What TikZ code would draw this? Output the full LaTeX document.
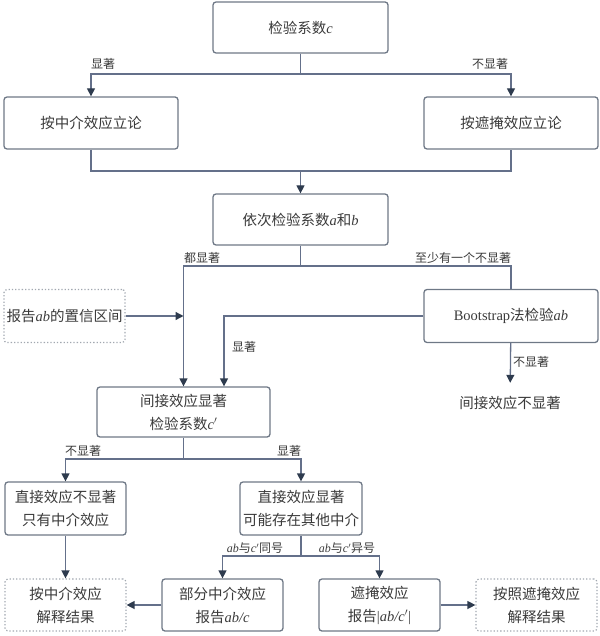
\documentclass[tikz,border=0pt]{standalone}
\usepackage{fontspec}
\setmainfont{Noto Sans CJK SC}
\newfontfamily\tnr{Liberation Serif}
\usepackage{xcolor}
\usepackage{tikz}
\usetikzlibrary{arrows.meta,positioning}

\definecolor{boxline}{HTML}{6E7886}
\definecolor{linkline}{HTML}{64708A}
\definecolor{headcol}{HTML}{2E3B4E}
\definecolor{dotline}{HTML}{A2A8B0}
\definecolor{txtcol}{HTML}{3A3A3A}

\newcommand{\vv}[1]{{\tnr\itshape #1}}

\tikzset{
  box/.style={draw=boxline,line width=1.3pt,rounded corners=3pt,inner sep=0pt,
    align=center,text=txtcol,font=\fontsize{14.5}{23}\selectfont},
  dbox/.style={box,draw=dotline,dotted,line width=1.2pt},
  plain/.style={inner sep=0pt,text=txtcol,font=\fontsize{14.5}{23}\selectfont},
  lbl/.style={inner sep=0pt,text=txtcol,font=\fontsize{12}{14}\selectfont},
  link/.style={draw=linkline,line width=1.3pt},
  arrow/.style={link,-{Triangle[length=8pt,width=8pt,color=headcol]}}
}

\begin{document}
\begin{tikzpicture}[x=1pt,y=-1pt]
  \useasboundingbox (0,0) rectangle (599,636);

  % boxes
  \node[box,minimum width=175pt,minimum height=51pt] (testc) at (300.5,27.5) {检验系数\vv{c}};
  \node[box,minimum width=174pt,minimum height=52pt] (med) at (91,123) {按中介效应立论};
  \node[box,minimum width=174pt,minimum height=52pt] (mask) at (511,123) {按遮掩效应立论};
  \node[box,minimum width=175pt,minimum height=51pt] (testab) at (300.5,219.5) {依次检验系数\vv{a}和\vv{b}};
  \node[dbox,minimum width=121pt,minimum height=53pt] (ci) at (64.5,316) {报告\vv{ab}的置信区间};
  \node[box,minimum width=174pt,minimum height=53pt] (boot) at (511,316) {{\tnr Bootstrap}法检验\vv{ab}};
  \node[box,minimum width=173pt,minimum height=50pt] (ind) at (183.5,412) {间接效应显著\\检验系数\vv{c}$'$};
  \node[plain,minimum height=40pt] (indn) at (510,403) {间接效应不显著};
  \node[box,minimum width=121pt,minimum height=53pt] (dirn) at (65.5,508.5) {直接效应不显著\\只有中介效应};
  \node[box,minimum width=122pt,minimum height=53pt] (dirs) at (301,508.5) {直接效应显著\\可能存在其他中介};
  \node[dbox,minimum width=121pt,minimum height=52pt] (res1) at (65.5,605) {按中介效应\\解释结果};
  \node[box,minimum width=121pt,minimum height=52pt] (part) at (222.5,605) {部分中介效应\\报告\vv{ab/c}};
  \node[box,minimum width=121pt,minimum height=52pt] (maskb) at (379.5,605) {遮掩效应\\报告{\tnr|}\vv{ab/c}$'${\tnr|}};
  \node[dbox,minimum width=121pt,minimum height=52pt] (res2) at (536.5,605) {按照遮掩效应\\解释结果};

  % split and merge points
  \coordinate (s1) at (300.5,74);
  \coordinate (m1) at (300.5,171);
  \coordinate (s2) at (300.5,266);
  \coordinate (s3) at (183.5,459);
  \coordinate (s4) at (301,556);

  % connectors
  \draw[link] (testc) -- (s1);
  \draw[arrow] (s1) -| (med);
  \draw[arrow] (s1) -| (mask);
  \draw[link] (med.south) |- (m1) -| (mask.south);
  \draw[arrow] (m1) -- (testab);
  \draw[link] (testab) -- (s2);
  \draw[arrow] (s2) -| (ind);
  \draw[link] (s2) -| (boot);
  \draw[arrow] (ci) -- (ci.east -| ind.north);
  \draw[arrow] (boot) -| ([xshift=40.5pt]ind.north);
  \draw[arrow] (boot) -- (indn);
  \draw[link] (ind) -- (s3);
  \draw[arrow] (s3) -| (dirn);
  \draw[arrow] (s3) -| (dirs);
  \draw[arrow] (dirn) -- (res1);
  \draw[link] (dirs) -- (s4);
  \draw[arrow] (s4) -| (part);
  \draw[arrow] (s4) -| (maskb);
  \draw[arrow] (part) -- (res1);
  \draw[arrow] (maskb) -- (res2);

  % labels
  \node[lbl] (l1) at (103,64) {显著};
  \node[lbl] (l2) at (490,64) {不显著};
  \node[lbl] (l3) at (202,258) {都显著};
  \node[lbl] (l4) at (463,258) {至少有一个不显著};
  \node[lbl] (l5) at (244,347) {显著};
  \node[lbl] (l6) at (531,362) {不显著};
  \node[lbl] (l7) at (83,451) {不显著};
  \node[lbl] (l8) at (289,451) {显著};
  \node[lbl] (l9) at (255,548) {\vv{ab}与\vv{c}$'$同号};
  \node[lbl] (l10) at (347,548) {\vv{ab}与\vv{c}$'$异号};
\end{tikzpicture}
\end{document}
